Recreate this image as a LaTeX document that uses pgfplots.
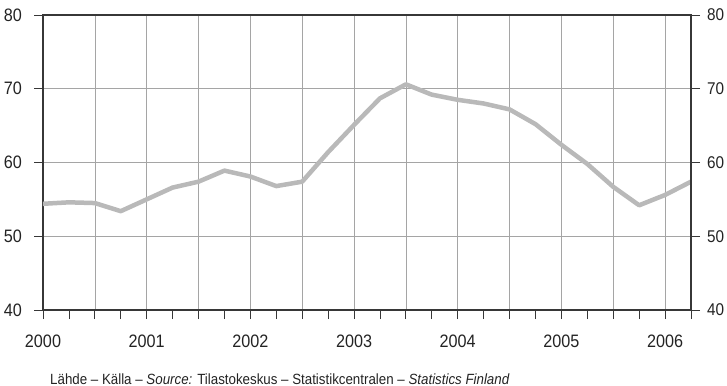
\documentclass[border=0pt]{standalone}
\usepackage{pgfplots}
\pgfplotsset{compat=1.18}
\usepackage{pgfplotstable}
\usepackage{fontspec}
\setmainfont{Liberation Sans}[FakeStretch=0.9]
\definecolor{axisgray}{RGB}{55,55,55}
\definecolor{gridgray}{RGB}{165,165,165}
\definecolor{linegray}{RGB}{185,185,185}
\definecolor{textgray}{RGB}{35,35,35}
\pgfplotstableread{
x y
2000.00 54.4
2000.25 54.6
2000.50 54.5
2000.75 53.4
2001.00 55.0
2001.25 56.6
2001.50 57.4
2001.75 58.9
2002.00 58.1
2002.25 56.8
2002.50 57.4
2002.75 61.4
2003.00 65.1
2003.25 68.7
2003.50 70.6
2003.75 69.2
2004.00 68.5
2004.25 68.0
2004.50 67.2
2004.75 65.2
2005.00 62.4
2005.25 59.8
2005.50 56.7
2005.75 54.2
2006.00 55.6
2006.25 57.4
}\data
\begin{document}
\begin{tikzpicture}
\useasboundingbox (-43bp,-76bp) rectangle (684bp,310bp);
\begin{axis}[
  scale only axis, width=648bp, height=295bp,
  xmin=2000, xmax=2006.25, ymin=40, ymax=80,
  xtick={2000,2000.5,2001,2001.5,2002,2002.5,2003,2003.5,2004,2004.5,2005,2005.5,2006},
  xticklabels={2000,,2001,,2002,,2003,,2004,,2005,,2006},
  minor xtick={2000.25,2000.75,2001.25,2001.75,2002.25,2002.75,2003.25,2003.75,2004.25,2004.75,2005.25,2005.75,2006.25},
  ytick={40,50,60,70,80},
  grid=major, grid style={gridgray, line width=0.6bp},
  axis line style={axisgray, line width=1.2bp},
  tick style={axisgray, line width=0.8bp},
  tick align=outside, xtick pos=bottom, ytick pos=left,
  major tick length=9bp, minor tick length=9bp,
  /pgf/number format/assume math mode=true,
  tick label style={font=\fontsize{18bp}{20bp}\selectfont, text=textgray, inner sep=0pt},
  yticklabel style={xshift=-12bp},
  xticklabel style={yshift=-16bp},
]
\addplot[linegray, line width=4.5bp, line join=round, line cap=round] table[x=x,y=y] {\data};
\end{axis}
\begin{axis}[
  scale only axis, width=648bp, height=295bp,
  xmin=2000, xmax=2006.25, ymin=40, ymax=80,
  hide x axis, axis y line*=right,
  ytick={40,50,60,70,80},
  axis line style={axisgray, line width=1.2bp},
  tick style={axisgray, line width=0.8bp},
  tick align=outside, major tick length=9bp,
  /pgf/number format/assume math mode=true,
  tick label style={font=\fontsize{17bp}{19bp}\selectfont, text=textgray, inner sep=0pt},
  yticklabel style={xshift=7bp},
]
\end{axis}
\node[anchor=base west, font=\fontsize{14.8bp}{17bp}\selectfont, text=textgray, inner sep=0pt] at (7bp,-74bp) {Lähde -- Källa -- \textit{Source:} Tilastokeskus -- Statistikcentralen -- \textit{Statistics Finland}};
\end{tikzpicture}
\end{document}
